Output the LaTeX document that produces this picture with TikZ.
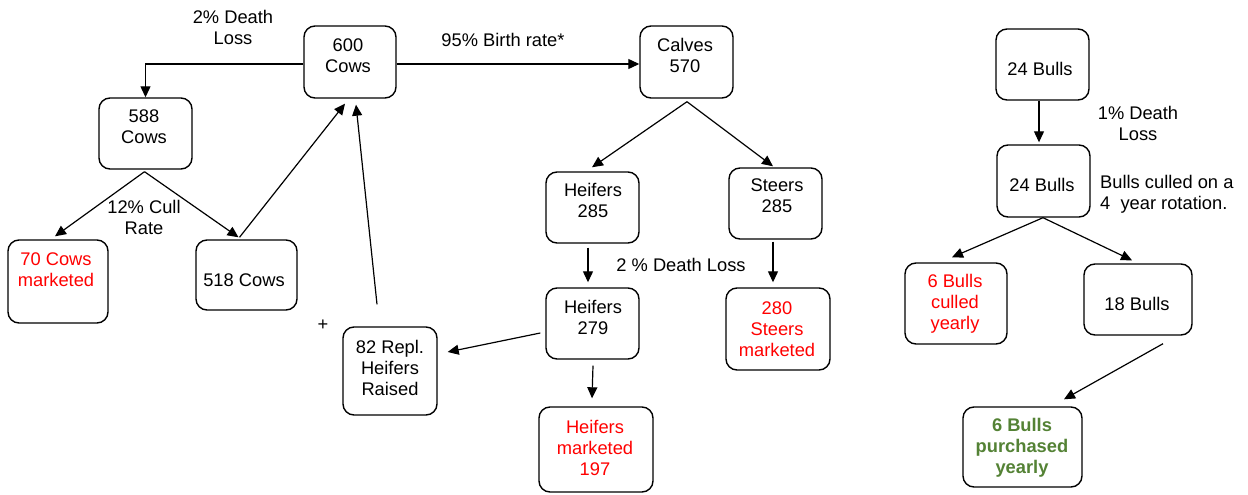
\documentclass[tikz,border=0pt]{standalone}
\usepackage{fontspec}
\setmainfont{Liberation Sans}
\usetikzlibrary{arrows.meta,calc}
\definecolor{mkred}{HTML}{FF0000}
\definecolor{mkgreen}{HTML}{548235}
\begin{document}
\begin{tikzpicture}[x=1pt,y=-1pt,
  box/.style={draw=black,line width=1.4pt,rounded corners=11pt,inner sep=0pt},
  txt/.style={font=\fontsize{18.3}{21}\selectfont,align=center,inner sep=0pt},
  ltxt/.style={font=\fontsize{18.3}{21}\selectfont,align=left,inner sep=0pt},
  arr/.style={line width=1.2pt,-{Triangle[length=11pt,width=10pt]}},
  ln/.style={line width=1.2pt}]
\useasboundingbox[fill=white] (0,0) rectangle (1248,495);
% boxes
\node[box,minimum width=92pt,minimum height=72pt] (c600) at (350,62) {};
\node[box,minimum width=93pt,minimum height=71pt] (c588) at (145.5,133.5) {};
\node[box,minimum width=100pt,minimum height=83pt] (cow70) at (58,281.5) {};
\node[box,minimum width=101pt,minimum height=70pt] (c518) at (246.5,275) {};
\node[box,minimum width=93pt,minimum height=72pt] (calves) at (686.5,62) {};
\node[box,minimum width=93pt,minimum height=71pt] (hf285) at (592.5,207.5) {};
\node[box,minimum width=93pt,minimum height=71pt] (st285) at (775.5,203.5) {};
\node[box,minimum width=93pt,minimum height=71pt] (hf279) at (592.5,323.5) {};
\node[box,minimum width=94pt,minimum height=88pt] (repl) at (390,371) {};
\node[box,minimum width=114pt,minimum height=85pt] (hfm) at (596,449.5) {};
\node[box,minimum width=104pt,minimum height=82pt] (stm) at (778,329) {};
\node[box,minimum width=93pt,minimum height=71pt] (b24a) at (1042.5,64.5) {};
\node[box,minimum width=93pt,minimum height=72pt] (b24b) at (1043.5,181) {};
\node[box,minimum width=102pt,minimum height=81pt] (b6c) at (956,303.5) {};
\node[box,minimum width=108pt,minimum height=71pt] (b18) at (1138,299.5) {};
\node[box,minimum width=119pt,minimum height=80pt] (b6p) at (1022.5,447) {};
% box texts
\node[txt] (c600t) at (348,55.5) {600\\Cows};
\node[txt] (c588t) at (144,127) {588\\Cows};
\node[txt,text=mkred] (cow70t) at (56,270) {70 Cows\\marketed};
\node[txt] (c518t) at (244,280) {518 Cows};
\node[txt] (calvest) at (685,55.5) {Calves\\570};
\node[txt] (hf285t) at (593,200) {Heifers\\285};
\node[txt] (st285t) at (777,196) {Steers\\285};
\node[txt] (hf279t) at (593,317.5) {Heifers\\279};
\node[txt] (replt) at (390,368) {82 Repl.\\Heifers\\Raised};
\node[txt,text=mkred] (hfmt) at (595,448) {Heifers\\marketed\\197};
\node[txt,text=mkred] (stmt) at (777,329.5) {280\\Steers\\marketed};
\node[txt] (b24at) at (1040,69) {24 Bulls};
\node[txt] (b24bt) at (1042,185) {24 Bulls};
\node[txt,text=mkred] (b6ct) at (955,303.5) {6 Bulls\\culled\\yearly};
\node[txt] (b18t) at (1137,303.5) {18 Bulls};
\node[txt,text=mkgreen,font=\fontsize{18.3}{21}\selectfont\bfseries] (b6pt) at (1022,448) {6 Bulls\\purchased\\yearly};
% free labels
\node[txt] (lbl1) at (233,27.5) {2\% Death\\Loss};
\node[txt] (lbl2) at (503,39.5) {95\% Birth rate*};
\node[txt] (lbl3) at (144,217.5) {12\% Cull\\Rate};
\node[txt] (lbl4) at (681,265) {2 \% Death Loss};
\node[txt] (lbl5) at (323,325) {+};
\node[txt] (lbl6) at (1138,123) {1\% Death\\Loss};
\node[ltxt,anchor=west] (lbl7) at (1100,194) {Bulls culled on a\\4\ \ year rotation.};
% connectors
\draw[arr] ($(c600.west)+(0,2)$) -| (c588.north);
\draw[arr] ($(c600.east)+(0,2)$) -- ($(calves.west)+(0,2)$);
\draw[arr] ($(c588.south)+(-1,2)$) -- ($(cow70.north)+(-3,-3)$);
\draw[arr] ($(c588.south)+(-1,2)$) -- ($(c518.north)+(-8,-2)$);
\draw[arr] ($(c518.north)+(-7,-2)$) -- ($(c600.south)+(-5,5)$);
\draw[arr] ($(repl.north)+(-13,-22)$) -- ($(c600.south)+(6,6)$);
\draw[arr] ($(calves.south)+(0.5,3)$) -- ($(hf285.north)+(-0.5,-4)$);
\draw[arr] ($(calves.south)+(0.5,3)$) -- ($(st285.north)+(-2.5,-1)$);
\draw[arr] ($(hf285.south)+(-4.5,4)$) -- ($(hf279.north)+(-4.5,-5)$);
\draw[arr] ($(hf279.west)+(-5,9.5)$) -- ($(repl.east)+(10,-19)$);
\draw[arr] ($(hf279.south)+(0.5,6)$) -- ($(hfm.north)+(-4,-8)$);
\draw[arr] ($(st285.south)+(-2.5,2)$) -- ($(stm.north)+(-5,-5)$);
\draw[arr] ($(b24a.south)+(-3.5,0)$) -- ($(b24b.north)+(-4.5,-2)$);
\draw[arr] ($(b24b.south)+(-0.5,0)$) -- ($(b6c.north)+(-4,-5)$);
\draw[arr] ($(b24b.south)+(-0.5,0)$) -- ($(b18.north)+(-6,-3)$);
\draw[arr] ($(b18.south)+(25,8)$) -- ($(b6p.north)+(41.5,-7)$);
\end{tikzpicture}
\end{document}
